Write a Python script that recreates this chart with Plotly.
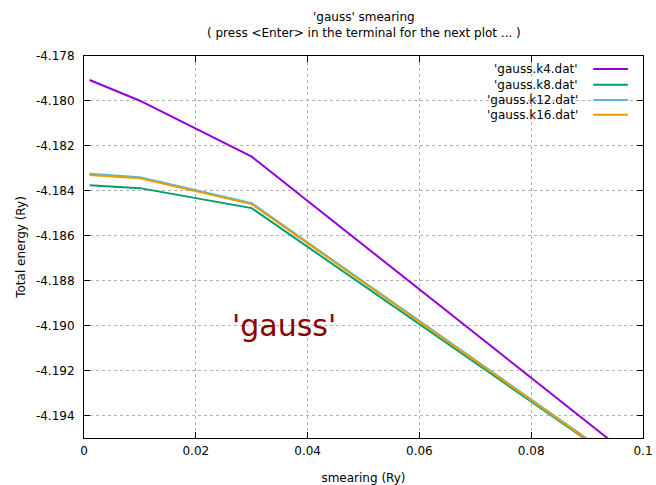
import plotly.graph_objects as go

# ---- data ----
smearing = [0.001, 0.01, 0.03, 0.1]
e_k4 = [-4.17907, -4.17999, -4.18248, -4.19626]
e_k8 = [-4.18375, -4.18388, -4.18477, -4.19682]
e_k12 = [-4.18324, -4.18339, -4.18455, -4.19678]
e_k16 = [-4.18330, -4.18344, -4.18459, -4.19681]

series_names = ["'gauss.k4.dat'", "'gauss.k8.dat'", "'gauss.k12.dat'", "'gauss.k16.dat'"]
series_values = [e_k4, e_k8, e_k12, e_k16]
series_colors = ["#9400d3", "#009e73", "#56b4e9", "#e69f00"]

x_tickvals = [0, 0.02, 0.04, 0.06, 0.08, 0.1]
x_ticktext = ["0", "0.02", "0.04", "0.06", "0.08", "0.1"]
y_tickvals = [-4.178, -4.180, -4.182, -4.184, -4.186, -4.188, -4.190, -4.192, -4.194]
y_ticktext = ["-4.178", "-4.180", "-4.182", "-4.184", "-4.186", "-4.188", "-4.190", "-4.192", "-4.194"]

FONT = "DejaVu Sans"

fig = go.Figure()
for name, vals, col in zip(series_names, series_values, series_colors):
    fig.add_trace(go.Scatter(x=smearing, y=vals, mode="lines", name=name,
                             line=dict(color=col, width=2), showlegend=False))

# gnuplot-style key: text on the left, line sample on the right, opaque white box
shapes = [dict(type="rect", xref="paper", yref="paper", x0=0.716, x1=0.998,
               y0=0.827, y1=0.984, fillcolor="white", line=dict(width=0),
               layer="between")]
annotations = []
row_y = [0.966, 0.925, 0.885, 0.846]
for name, col, yy in zip(series_names, series_colors, row_y):
    annotations.append(dict(text=name, xref="paper", yref="paper", x=0.887, y=yy,
                            xanchor="right", yanchor="middle", showarrow=False,
                            font=dict(family=FONT, size=12, color="black")))
    shapes.append(dict(type="line", xref="paper", yref="paper", x0=0.911, x1=0.973,
                       y0=yy, y1=yy, line=dict(color=col, width=2)))

# titles
annotations.append(dict(text="'gauss' smearing", xref="paper", yref="paper",
                        x=0.5, y=1.102, xanchor="center", yanchor="middle",
                        showarrow=False, font=dict(family=FONT, size=12, color="black")))
annotations.append(dict(text="( press &lt;Enter&gt; in the terminal for the next plot ... )",
                        xref="paper", yref="paper", x=0.5, y=1.060,
                        xanchor="center", yanchor="middle", showarrow=False,
                        font=dict(family=FONT, size=12, color="black")))
# big label
annotations.append(dict(text="'gauss'", x=0.0358, y=-4.1900, xref="x", yref="y",
                        xanchor="center", yanchor="middle", showarrow=False,
                        font=dict(family=FONT, size=30, color="#8b0000")))

fig.update_layout(
    width=656, height=485,
    margin=dict(l=84, r=13, t=56, b=47, autoexpand=False),
    paper_bgcolor="white", plot_bgcolor="white",
    font=dict(family=FONT, size=12, color="black"),
    shapes=shapes, annotations=annotations,
    showlegend=False,
)
fig.update_xaxes(range=[0, 0.1], tickvals=x_tickvals, ticktext=x_ticktext,
                 automargin=False,
                 showline=True, linecolor="black", linewidth=1, mirror="allticks",
                 ticks="inside", ticklen=6, tickcolor="black",
                 showgrid=True, gridcolor="#b0b0b0", griddash="dot", gridwidth=1,
                 zeroline=False, ticklabelstandoff=2,
                 title=dict(text="smearing (Ry)", standoff=18,
                            font=dict(family=FONT, size=12)))
fig.update_yaxes(range=[-4.195, -4.178], tickvals=y_tickvals, ticktext=y_ticktext,
                 automargin=False,
                 showline=True, linecolor="black", linewidth=1, mirror="allticks",
                 ticks="inside", ticklen=6, tickcolor="black",
                 showgrid=True, gridcolor="#b0b0b0", griddash="dot", gridwidth=1,
                 zeroline=False, ticklabelstandoff=6,
                 title=dict(text="Total energy (Ry)", standoff=7,
                            font=dict(family=FONT, size=12)))

fig.write_html("out.html")
